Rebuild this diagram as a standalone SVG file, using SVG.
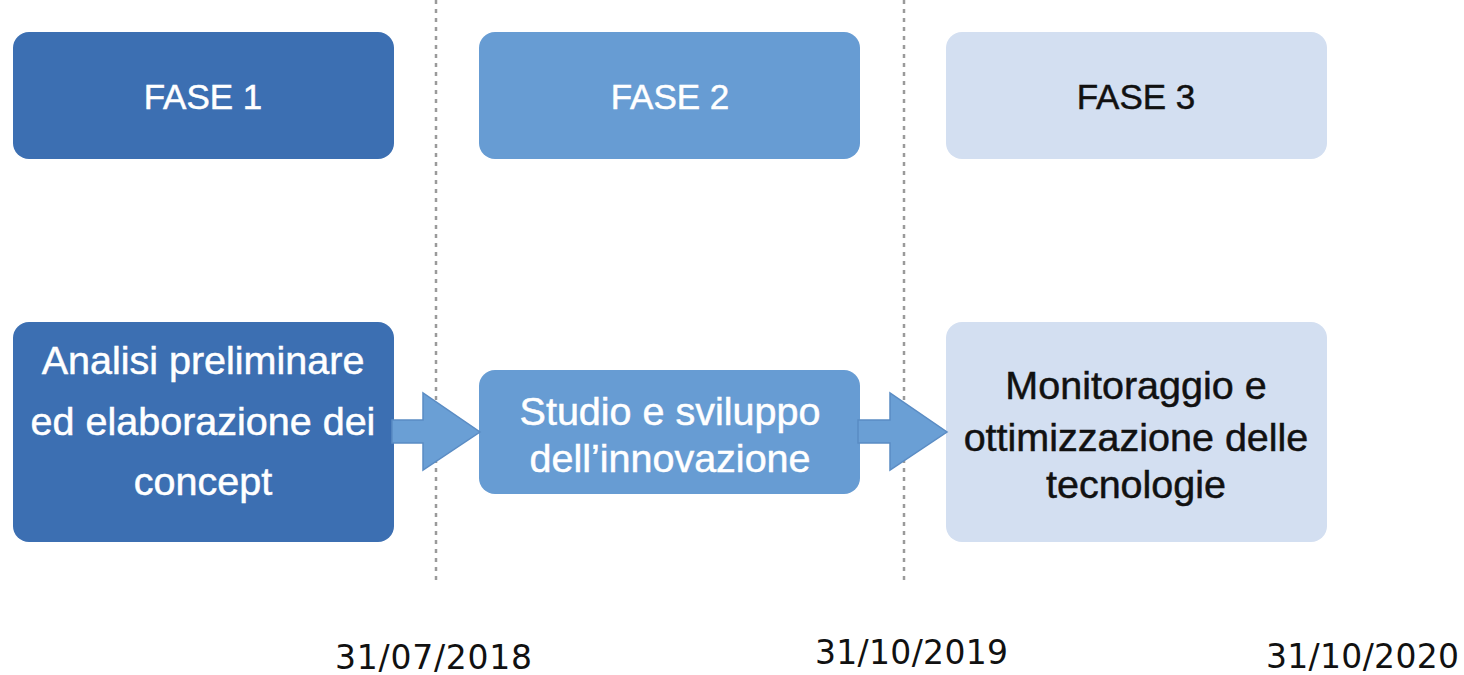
<svg xmlns="http://www.w3.org/2000/svg" width="1464" height="675" viewBox="0 0 1464 675">
<style>
.t{font-family:"Liberation Sans",Arial,sans-serif;text-anchor:middle;stroke-width:0.5}
.w{fill:#ffffff;stroke:#ffffff}
.k{fill:#111111;stroke:#111111}
.d{font-family:"DejaVu Sans",sans-serif;font-size:33px;fill:#111111}
.c1{fill:#3c6fb2}
.c2{fill:#679cd3}
.c3{fill:#d3dff1}
.sep{stroke:#9a9a9a;stroke-width:2.5;stroke-dasharray:4 5;fill:none}
.arr{fill:#6a9fd5;stroke:#5a8cc4;stroke-width:1.5}
</style>
<rect width="1464" height="675" fill="#ffffff"/>
<g id="separators">
<line class="sep" x1="436" y1="0" x2="436" y2="584"/>
<line class="sep" x1="904" y1="0" x2="904" y2="584"/>
</g>
<g id="fase1"><rect class="c1" x="13" y="32" width="381" height="127" rx="16"/><text class="t w" x="203" y="109" font-size="35">FASE 1</text></g>
<g id="fase2"><rect class="c2" x="479" y="32" width="381" height="127" rx="16"/><text class="t w" x="670" y="109" font-size="35">FASE 2</text></g>
<g id="fase3"><rect class="c3" x="946" y="32" width="381" height="127" rx="16"/><text class="t k" x="1136" y="109" font-size="35">FASE 3</text></g>
<g id="step1"><rect class="c1" x="13" y="322" width="381" height="220" rx="16"/>
<text class="t w" font-size="39.5"><tspan x="203" y="374">Analisi preliminare</tspan><tspan x="203" y="435">ed elaborazione dei</tspan><tspan x="203" y="495">concept</tspan></text></g>
<g id="step2"><rect class="c2" x="479" y="370" width="381" height="124" rx="16"/>
<text class="t w" font-size="39.5"><tspan x="670" y="425">Studio e sviluppo</tspan><tspan x="670" y="472">dell’innovazione</tspan></text></g>
<g id="step3"><rect class="c3" x="946" y="322" width="381" height="220" rx="16"/>
<text class="t k" font-size="39.5"><tspan x="1136" y="399">Monitoraggio e</tspan><tspan x="1136" y="451">ottimizzazione delle</tspan><tspan x="1136" y="498">tecnologie</tspan></text></g>
<g id="connectors">
<polygon class="arr" points="392,420 423,420 423,393 480,432 423,470 423,443 392,443"/>
<polygon class="arr" points="858,420 890,420 890,393 947,432 890,470 890,443 858,443"/>
</g>
<g id="dates">
<text class="d" x="335" y="669" textLength="197">31/07/2018</text>
<text class="d" x="815" y="664" textLength="193">31/10/2019</text>
<text class="d" x="1266" y="668" textLength="193">31/10/2020</text>
</g>
</svg>
